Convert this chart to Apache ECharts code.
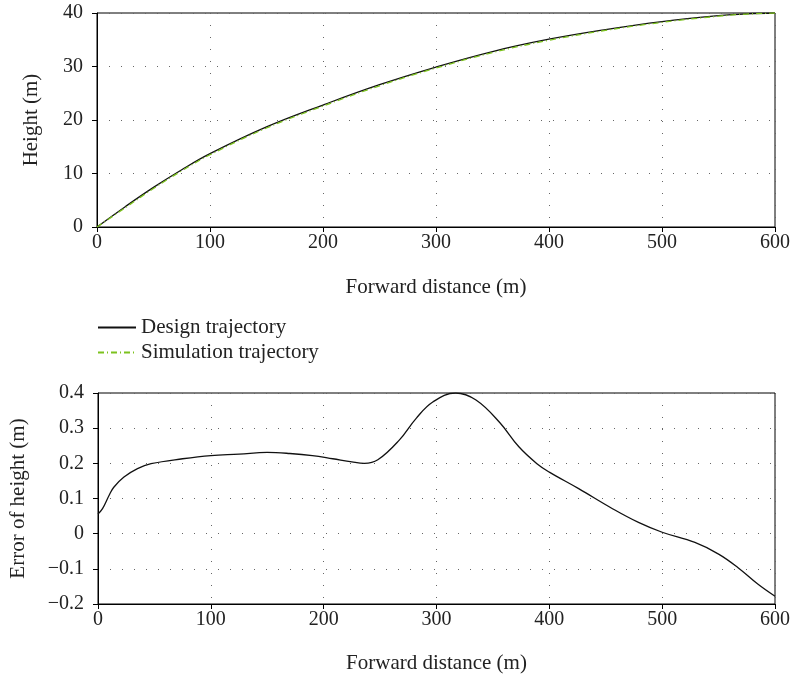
<!DOCTYPE html>
<html><head><meta charset="utf-8">
<script src="https://cdn.jsdelivr.net/npm/echarts@6/dist/echarts.min.js"></script>
<style>html,body{margin:0;padding:0;background:#fff}#c{width:793px;height:679px}</style>
</head><body><div id="c"></div>
<script>
// Top plot: height vs forward distance
const distTop = [0, 25, 50, 75, 100, 150, 200, 250, 300, 350, 400, 450, 500, 550, 575, 600];
const designHeight = [0, 3.8, 7.4, 10.7, 13.7, 18.7, 22.8, 26.6, 29.9, 32.8, 35.1, 36.9, 38.4, 39.5, 39.85, 40];
const simHeight = [0, 3.6, 7.2, 10.5, 13.5, 18.5, 22.6, 26.4, 29.7, 32.6, 34.9, 36.75, 38.25, 39.4, 39.8, 40];
// Bottom plot: error of height
const distErr = [0, 4, 10, 14, 23, 35, 47, 75, 100, 125, 150, 170, 190, 208, 225, 236, 248, 267, 282, 297, 317, 335, 356, 373, 389, 400, 426, 456, 479, 500, 529, 550, 567, 585, 600];
const errHeight = [0.056, 0.071, 0.11, 0.132, 0.161, 0.185, 0.199, 0.213, 0.222, 0.226, 0.231, 0.228, 0.222, 0.213, 0.204, 0.200, 0.210, 0.266, 0.328, 0.375, 0.400, 0.380, 0.316, 0.247, 0.199, 0.175, 0.128, 0.071, 0.032, 0.004, -0.025, -0.058, -0.096, -0.144, -0.178];
const legendNames = ['Design trajectory', 'Simulation trajectory'];

const FONT = 'Liberation Serif';
const pairs = (xs, ys) => xs.map((x, i) => [x, ys[i]]);
const dotted = { show: true, lineStyle: { color: '#666', type: [1, 11], width: 1 } };
const axisCommon = {
  axisLine: { show: true, onZero: false, lineStyle: { color: '#000', width: 1 } },
  axisTick: { show: true, inside: false, length: 5, lineStyle: { color: '#000' } },
  splitLine: dotted,
  nameTextStyle: { fontFamily: FONT, fontSize: 21, color: '#222' },
};
const fmtNum = v => (Math.abs(v) < 1e-9 ? '0' : (Number.isInteger(v) ? String(v) : v.toFixed(1))).replace('-', '\u2212');
const tickLabel = (margin) => ({ fontFamily: FONT, fontSize: 20, color: '#222', margin, formatter: fmtNum });

const chart = echarts.init(document.getElementById('c'), null, { renderer: 'canvas' });
chart.setOption({
  backgroundColor: '#fff',
  animation: false,
  textStyle: { fontFamily: FONT },
  grid: [
    { left: 97, top: 13, width: 680, height: 214, show: true, borderColor: '#000', borderWidth: 1 },
    { left: 97, top: 393, width: 680, height: 211, show: true, borderColor: '#000', borderWidth: 1 },
  ],
  legend: {
    orient: 'vertical', left: 92, top: 312, itemWidth: 38, itemHeight: 10, itemGap: 4,
    data: legendNames,
    itemStyle: { opacity: 0 },
    textStyle: { fontFamily: FONT, fontSize: 21, color: '#222' },
  },
  xAxis: [0, 1].map(g => Object.assign({}, axisCommon, {
    type: 'value', gridIndex: g, min: 0, max: 600, interval: 100,
    name: 'Forward distance (m)', nameLocation: 'middle', nameGap: g === 0 ? 50 : 49,
    axisLabel: tickLabel(6),
  })),
  yAxis: [
    Object.assign({}, axisCommon, {
      type: 'value', gridIndex: 0, min: 0, max: 40, interval: 10,
      name: 'Height (m)', nameLocation: 'middle', nameGap: 55,
      axisLabel: tickLabel(14),
    }),
    Object.assign({}, axisCommon, {
      type: 'value', gridIndex: 1, min: -0.2, max: 0.4, interval: 0.1,
      name: 'Error of height (m)', nameLocation: 'middle', nameGap: 69,
      axisLabel: tickLabel(14),
    }),
  ],
  series: [
    { name: legendNames[0], type: 'line', xAxisIndex: 0, yAxisIndex: 0, data: pairs(distTop, designHeight),
      smooth: 0.4, symbol: 'none', lineStyle: { color: '#111', width: 1.3 }, itemStyle: { color: '#111' }, z: 3 },
    { name: legendNames[1], type: 'line', xAxisIndex: 0, yAxisIndex: 0, data: pairs(distTop, simHeight),
      smooth: 0.4, symbol: 'none', lineStyle: { color: '#7cc21e', width: 1.3, type: [6, 3, 1, 3] }, itemStyle: { color: '#7cc21e' }, z: 4 },
    { name: 'Error', type: 'line', xAxisIndex: 1, yAxisIndex: 1, data: pairs(distErr, errHeight),
      smooth: 0.4, symbol: 'none', lineStyle: { color: '#111', width: 1.3 } },
  ],
});
</script></body></html>
